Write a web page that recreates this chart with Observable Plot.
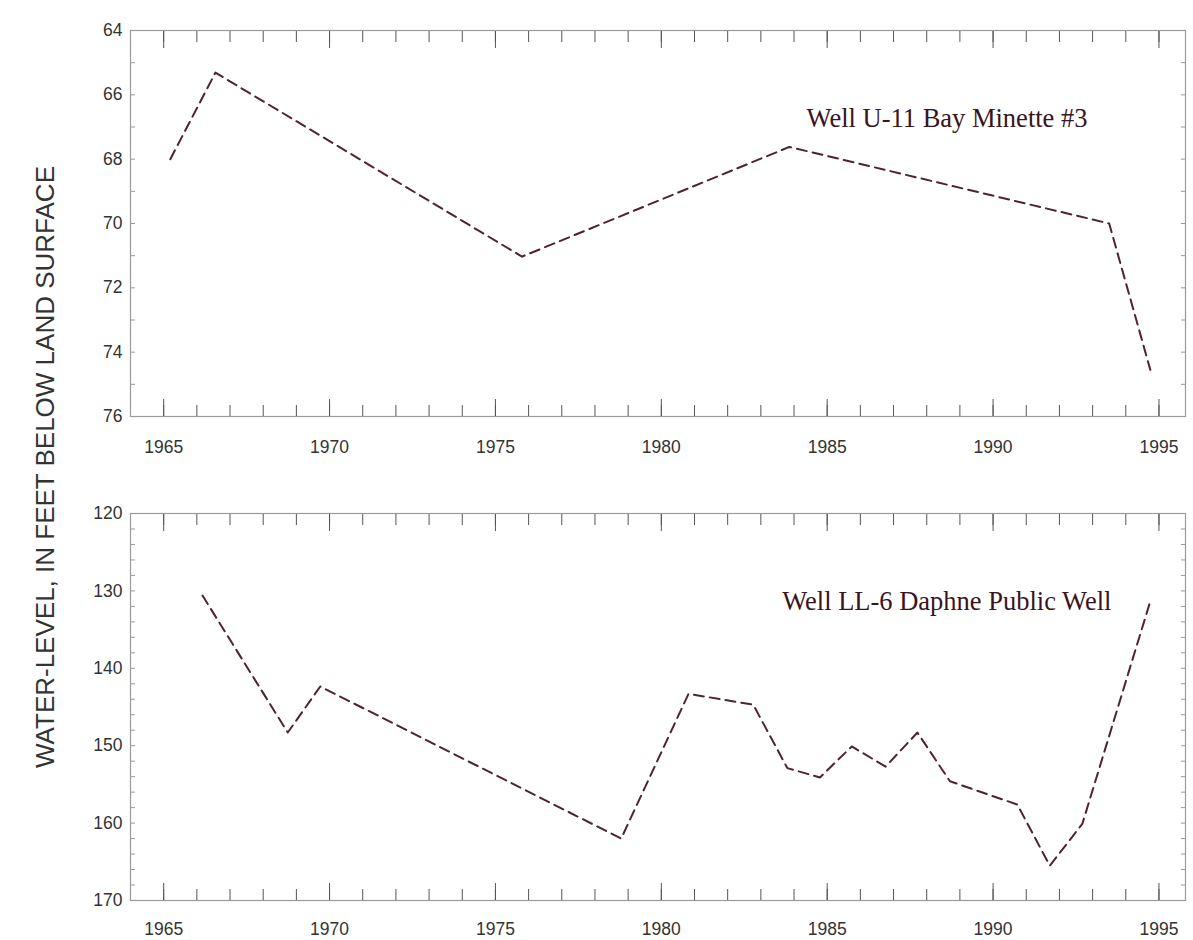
<!DOCTYPE html>
<html><head><meta charset="utf-8">
<script src="https://cdn.jsdelivr.net/npm/d3@7"></script>
<script src="https://cdn.jsdelivr.net/npm/@observablehq/plot@0.6"></script>
<style>
body{margin:0;background:#fff;}
#wrap{position:relative;width:1193px;height:940px;overflow:hidden;}
#wrap svg{display:block;}
#ytitle{position:absolute;left:45px;top:467px;transform:translate(-50%,-50%) rotate(-90deg);white-space:nowrap;font-family:"Liberation Sans",Arial,sans-serif;font-size:26px;color:#333;}
</style></head><body>
<div id="wrap"><div id="top"></div><div id="bottom"></div><div id="ytitle">WATER-LEVEL, IN FEET BELOW LAND SURFACE</div></div>
<script>
// Tick positions / labels
const majorYears = [1965, 1970, 1975, 1980, 1985, 1990, 1995];
const minorYears = [1965,1966,1967,1968,1969,1970,1971,1972,1973,1974,1975,1976,1977,1978,1979,1980,1981,1982,1983,1984,1985,1986,1987,1988,1989,1990,1991,1992,1993,1994,1995];
const topLabelTicks = [64, 66, 68, 70, 72, 74, 76];
const topMinorTicks = [64,65,66,67,68,69,70,71,72,73,74,75,76];
const bottomLabelTicks = [120, 130, 140, 150, 160, 170];
const bottomMinorTicks = [120,122,124,126,128,130,132,134,136,138,140,142,144,146,148,150,152,154,156,158,160,162,164,166,168,170];

// Well U-11 Bay Minette #3
const topName = "Well U-11 Bay Minette #3";
const topYears = [1965.2, 1966.56, 1975.8, 1983.86, 1993.5, 1994.74];
const topLevels = [68.0, 65.31, 71.03, 67.62, 70.0, 74.55];

// Well LL-6 Daphne Public Well
const bottomName = "Well LL-6 Daphne Public Well";
const bottomYears = [1966.17, 1968.74, 1969.72, 1978.79, 1980.82, 1982.77, 1983.8, 1984.78, 1985.74, 1986.76, 1987.72, 1988.7, 1990.73, 1991.71, 1992.69, 1994.72];
const bottomLevels = [130.6, 148.3, 142.35, 162.0, 143.3, 144.7, 152.9, 154.1, 150.1, 152.7, 148.3, 154.6, 157.6, 165.5, 160.1, 131.6];

function panel({name, years, levels, domainY, labelTicks, minorTicks, height, marginTop, marginBottom, labelPad, textDx}) {
  const data = years.map((x, i) => ({year: x, level: levels[i]}));
  const blank = () => "";
  return Plot.plot({
    width: 1193, height, marginTop, marginBottom, marginLeft: 130, marginRight: 8,
    style: {fontFamily: "'Liberation Sans', Arial, sans-serif", fontSize: "17.5px", color: "#333", background: "white"},
    x: {domain: [1964, 1995.8]},
    y: {domain: domainY, reverse: true},
    marks: [
      Plot.frame({stroke: "#9a9a9a", strokeWidth: 1.2}),
      Plot.axisX({anchor: "top", ticks: minorYears, tickSize: -11, tickFormat: blank, label: null, stroke: "#555"}),
      Plot.axisX({anchor: "top", ticks: majorYears, tickSize: -17, tickFormat: blank, label: null, stroke: "#555"}),
      Plot.axisX({anchor: "bottom", ticks: minorYears, tickSize: -11, tickFormat: blank, label: null, stroke: "#555"}),
      Plot.axisX({anchor: "bottom", ticks: majorYears, tickSize: -17, tickFormat: blank, label: null, stroke: "#555"}),
      Plot.axisX({anchor: "bottom", ticks: majorYears, tickSize: 0, tickPadding: labelPad, tickFormat: d => String(d), label: null, fill: "#333", fontSize: 17.5}),
      Plot.axisY({anchor: "left", ticks: minorTicks, tickSize: -5, tickFormat: blank, label: null, stroke: "#999"}),
      Plot.axisY({anchor: "right", ticks: minorTicks, tickSize: -5, tickFormat: blank, label: null, stroke: "#999"}),
      Plot.axisY({anchor: "left", ticks: labelTicks, tickSize: 0, tickPadding: 8, tickFormat: d => String(d), label: null, fill: "#333", fontSize: 17.5}),
      Plot.line(data, {x: "year", y: "level", stroke: "#4e2434", strokeWidth: 2, strokeDasharray: "10,6"}),
      Plot.text([name], {text: d => d, frameAnchor: "top-right", dx: textDx, dy: 88, textAnchor: "end", lineAnchor: "middle",
        fontFamily: "'Liberation Serif', 'Times New Roman', serif", fontSize: 26.5, fill: "#3a1420"})
    ]
  });
}

document.getElementById("top").append(panel({
  name: topName, years: topYears, levels: topLevels, domainY: [64, 76],
  labelTicks: topLabelTicks, minorTicks: topMinorTicks,
  height: 470, marginTop: 30, marginBottom: 54, labelPad: 24, textDx: -98
}));
document.getElementById("bottom").append(panel({
  name: bottomName, years: bottomYears, levels: bottomLevels, domainY: [120, 170],
  labelTicks: bottomLabelTicks, minorTicks: bottomMinorTicks,
  height: 470, marginTop: 43, marginBottom: 40, labelPad: 22, textDx: -74
}));
</script>
</body></html>
